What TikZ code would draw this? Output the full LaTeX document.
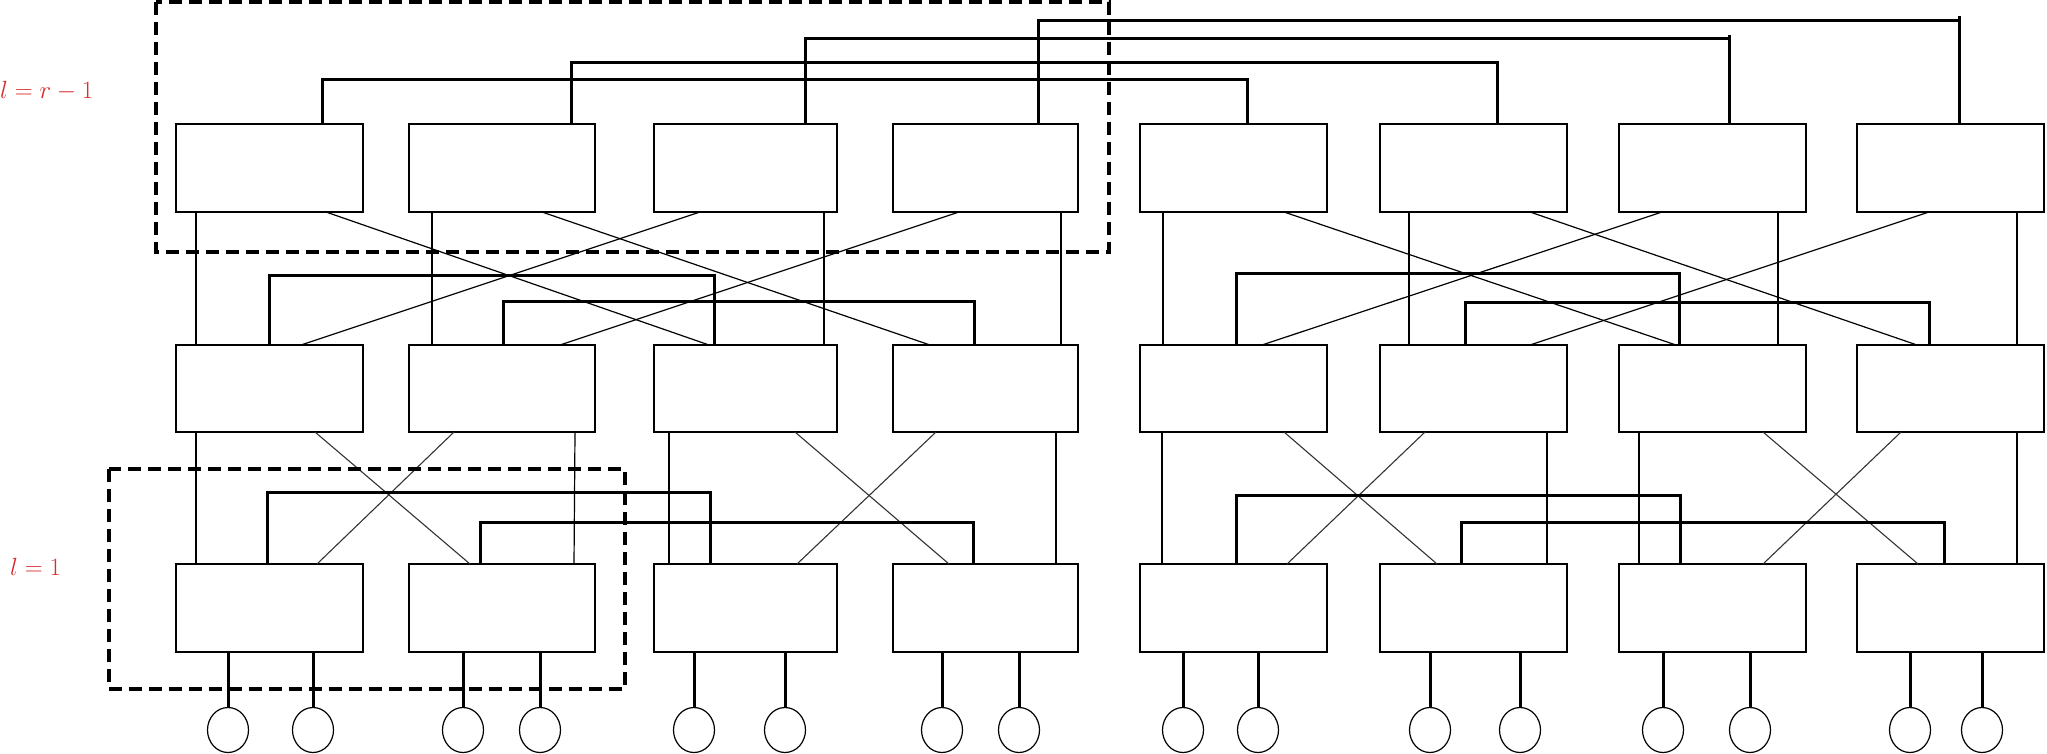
\documentclass[tikz,border=0pt]{standalone}
\usetikzlibrary{shapes.geometric}
\definecolor{lblred}{RGB}{215,45,45}
\begin{document}
\begin{tikzpicture}[x=1pt,y=-1pt,
  sw/.style={draw, line width=1.6pt, minimum height=88pt, inner sep=0pt, outer sep=0pt, anchor=north west},
  wire/.style={line width=1.2pt},
  xwire/.style={line width=1.1pt, black!80},
  link/.style={line width=3pt},
  leaf/.style={draw, ellipse, line width=1.2pt, minimum width=41pt, minimum height=45pt, inner sep=0pt, outer sep=0pt},
  grp/.style={line width=3.5pt, dash pattern=on 13pt off 7pt},
  lbl/.style={text=lblred, inner sep=0pt, anchor=west, font=\fontsize{24}{28}\selectfont}]
\useasboundingbox (0,0) rectangle (2047,753);

% switch boxes
\foreach \n/\x/\w in {1/176/187, 2/409/186, 3/654/183, 4/893/185, 5/1140/187, 6/1380/187, 7/1619/187, 8/1857/187} {
  \node[sw, minimum width=\w pt] (t\n) at (\x,124) {};
  \node[sw, minimum width=\w pt, minimum height=87pt] (m\n) at (\x,345) {};
  \node[sw, minimum width=\w pt] (b\n) at (\x,564) {};
}

% top -> middle
\foreach \a/\oa/\b/\ob in {t1/20/m1/20, t1/150/m3/55, t2/23/m2/23, t2/133/m4/37,
  t3/46/m1/125, t3/170/m3/170, t4/66/m2/151, t4/168/m4/168,
  t5/23/m5/23, t5/144/m7/57, t6/29/m6/29, t6/150/m8/60,
  t7/43/m5/122, t7/159/m7/159, t8/72/m6/150, t8/160/m8/160}
  \draw[wire] ([xshift=\oa pt]\a.south west) -- ([xshift=\ob pt]\b.north west);

% middle -> bottom
\foreach \a/\oa/\b/\ob in {m1/20/b1/20, m2/166/b2/165, m3/15/b3/15, m4/163/b4/163,
  m5/22/b5/22, m6/167/b6/167, m7/20/b7/20, m8/160/b8/160}
  \draw[wire] ([xshift=\oa pt]\a.south west) -- ([xshift=\ob pt]\b.north west);
\foreach \a/\oa/\b/\ob in {m1/139/b2/61, m2/45/b1/141, m3/141/b4/56, m4/43/b3/143,
  m5/144/b6/57, m6/45/b5/147, m7/144/b8/61, m8/44/b7/144}
  \draw[xwire] ([xshift=\oa pt]\a.south west) -- ([xshift=\ob pt]\b.north west);

% thick links above each row
\foreach \a/\oa/\h/\b/\ob in {m1/93/70/m3/60, m2/94/44/m4/81, m5/96/72/m7/60, m6/85/43/m8/72,
  b1/91/72/b3/56, b2/71/42/b4/80, b5/96/69/b7/61, b6/81/42/b8/87,
  t1/146/45/t5/107, t2/162/62/t6/117, t3/151/86/t7/110, t4/145/104/t8/102}
  \draw[link] ([xshift=\oa pt]\a.north west) -- ++(0,-\h) -| ([xshift=\ob pt]\b.north west);
\draw[link] ([xshift=110pt]t7.north west) -- ++(0,-89);
\draw[link] ([xshift=102pt]t8.north west) -- ++(0,-108);

% leaves
\foreach \n/\x/\s in {1/228/b1, 2/313/b1, 3/463/b2, 4/540/b2, 5/694/b3, 6/785/b3, 7/942/b4, 8/1019/b4,
  9/1183/b5, 10/1258/b5, 11/1430/b6, 12/1520/b6, 13/1663/b7, 14/1750/b7, 15/1910/b8, 16/1982/b8} {
  \node[leaf] (c\n) at (\x,730) {};
  \draw[link] (c\n.north) -- (c\n.north |- \s.south);
}

% dashed groups
\draw[grp] (156,2) rectangle (1109,252);
\draw[grp] (109,469) rectangle (625,689);

% labels
\node[lbl] (lr) at (0,91) {$l=r-1$};
\node[lbl] (l1) at (10,567) {$l=1$};
\end{tikzpicture}
\end{document}
